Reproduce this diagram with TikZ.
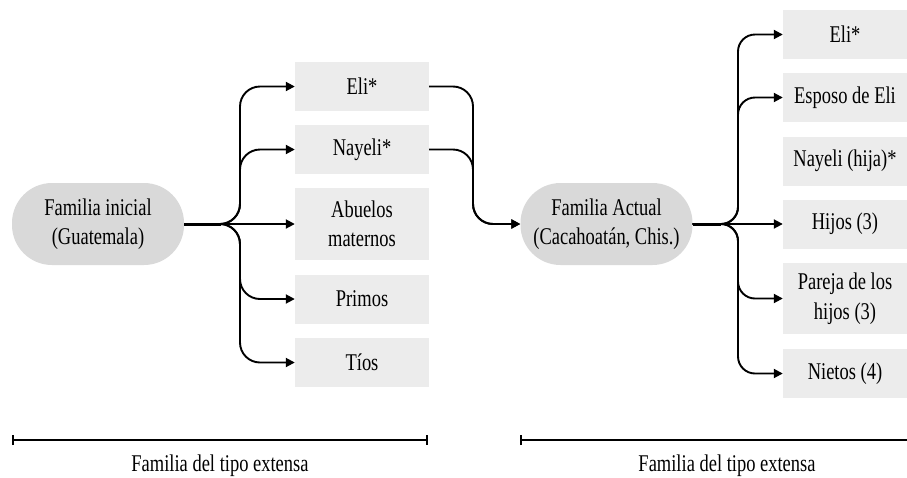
\documentclass[tikz,border=0pt]{standalone}
\usepackage{fontspec}
\setmainfont[FakeStretch=0.77]{Liberation Serif}
\usetikzlibrary{arrows.meta}
\definecolor{roundgray}{RGB}{217,217,217}
\definecolor{boxgray}{RGB}{236,236,236}
\begin{document}
\begin{tikzpicture}[x=1pt,y=-1pt,
  every node/.style={font=\fontsize{24}{29.5}\selectfont, align=center, inner sep=0pt},
  famnode/.style={fill=roundgray, rounded corners=40pt, minimum width=172pt, minimum height=82pt},
  lbox/.style={fill=boxgray, minimum width=134pt, minimum height=49pt},
  rbox/.style={fill=boxgray, minimum width=124pt, minimum height=49pt},
  conn/.style={line width=1.9pt, -{Triangle[length=9pt,width=9pt]}, rounded corners=20pt},
  stem/.style={line width=3pt},
  span/.style={line width=2pt}]
\useasboundingbox (0,0) rectangle (907,477);

% left family
\node[famnode] (fi) at (98,224) {Familia inicial\\(Guatemala)};
\node[lbox] (l1) at (362,86.5) {Eli*};
\node[lbox] (l2) at (362,149.5) {Nayeli*};
\node[lbox, minimum height=72pt] (l3) at (362,224) {Abuelos\\maternos};
\node[lbox] (l4) at (362,299) {Primos};
\node[lbox] (l5) at (362,362.5) {Tíos};

\coordinate (lb) at (240,224);
\coordinate (ls) at (221,224);
\draw[stem] (fi.east) -- (ls);
\draw[conn] (fi.east) -- (lb) |- (l1.west);
\draw[conn] (fi.east) -- (lb) |- (l2.west);
\draw[conn] (fi.east) -- (l3.west);
\draw[conn] (fi.east) -- (lb) |- (l4.west);
\draw[conn] (fi.east) -- (lb) |- (l5.west);

% current family
\node[famnode] (fa) at (606.5,224) {Familia Actual\\(Cacahoatán, Chis.)};
\coordinate (mb) at (473,224);
\draw[conn] (l1.east) -| (mb) -- (fa.west);
\draw[conn] (l2.east) -| (mb) -- (fa.west);

\node[rbox] (r1) at (845,34.5) {Eli*};
\node[rbox] (r2) at (845,97.5) {Esposo de Eli};
\node[rbox] (r3) at (845,161) {Nayeli (hija)*};
\node[rbox] (r4) at (845,224) {Hijos (3)};
\node[rbox, minimum height=71pt] (r5) at (845,298.5) {Pareja de los\\hijos (3)};
\node[rbox] (r6) at (845,373.5) {Nietos (4)};

\coordinate (rb) at (738,224);
\coordinate (rs) at (721,224);
\draw[stem] (fa.east) -- (rs);
\draw[conn, rounded corners=17pt] (fa.east) -- (rb) |- (r1.west);
\draw[conn, rounded corners=17pt] (fa.east) -- (rb) |- (r2.west);
\draw[conn] (fa.east) -- (r4.west);
\draw[conn, rounded corners=17pt] (fa.east) -- (rb) |- (r5.west);
\draw[conn, rounded corners=17pt] (fa.east) -- (rb) |- (r6.west);

% spans
\coordinate (s1a) at (12,440);
\coordinate (s1b) at (428,440);
\coordinate (s2a) at (520,440);
\coordinate (s2b) at (907,440);
\draw[span, {Bar[width=10pt]}-{Bar[width=10pt]}] (s1a) -- (s1b);
\draw[span, {Bar[width=10pt]}-] (s2a) -- (s2b);
\node (t1) at (220,466) {Familia del tipo extensa};
\node (t2) at (727,466) {Familia del tipo extensa};
\end{tikzpicture}
\end{document}
